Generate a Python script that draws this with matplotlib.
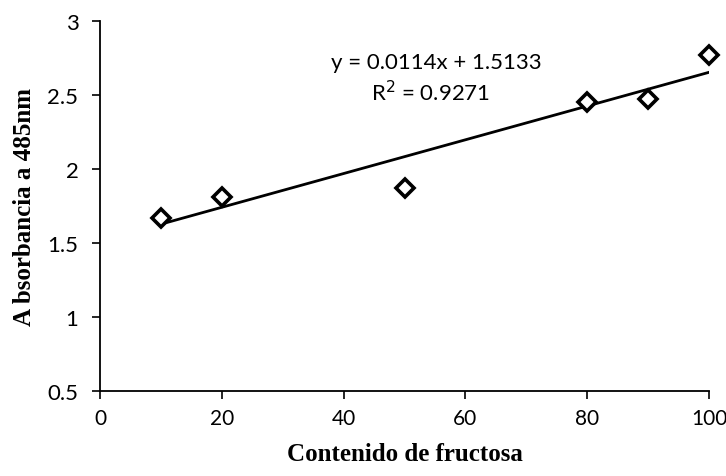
import numpy as np
import matplotlib
matplotlib.use("Agg")
import matplotlib.pyplot as plt

# Fructose content vs. absorbance at 485 nm
fructosa = [10, 20, 50, 80, 90, 100]
absorbancia = [1.67, 1.81, 1.87, 2.45, 2.47, 2.77]

# Linear trend line as reported
pendiente = 0.0114
intercepto = 1.5133
r2 = 0.9271

x_ticks = [0, 20, 40, 60, 80, 100]
y_ticks = [0.5, 1, 1.5, 2, 2.5, 3]

fig = plt.figure(figsize=(7.26, 4.77), dpi=100)
ax = fig.add_axes([100 / 726, 85 / 477, 609 / 726, 370 / 477])

xs = np.array([min(fructosa), max(fructosa)])
ax.plot(xs, pendiente * xs + intercepto, color="black", lw=2.0, zorder=2)
ax.plot(fructosa, absorbancia, linestyle="none", marker="D", markersize=9.5,
        markerfacecolor="white", markeredgecolor="black", markeredgewidth=2.6,
        zorder=3, clip_on=False)

ax.set_xlim(0, 100)
ax.set_ylim(0.5, 3)
ax.set_xticks(x_ticks)
ax.set_yticks(y_ticks)
ax.set_xticklabels([str(v) for v in x_ticks], fontfamily="Lato", fontsize=15)
ax.set_yticklabels([f"{v:g}" for v in y_ticks], fontfamily="Lato", fontsize=16)
ax.tick_params(axis="both", direction="out", length=5.5, width=1.2, color="black")
ax.tick_params(axis="y", pad=10)
ax.tick_params(axis="x", pad=7)

for side in ("top", "right"):
    ax.spines[side].set_visible(False)
for side in ("left", "bottom"):
    ax.spines[side].set_linewidth(1.3)
    ax.spines[side].set_color("black")

ax.set_xlabel("Contenido de fructosa", fontfamily="Liberation Serif",
              fontweight="bold", fontsize=18, labelpad=10)
ax.set_ylabel("A bsorbancia a 485nm", fontfamily="Liberation Serif",
              fontweight="bold", fontsize=18, labelpad=8)

ax.text(55.3, 2.725, f"y = {pendiente:.4f}x + {intercepto:.4f}",
        fontfamily="Lato", fontsize=16, ha="center", va="center")
ax.text(54.2, 2.52, f"R$^2$ = {r2:.4f}",
        fontfamily="Lato", fontsize=16, ha="center", va="center")

fig.savefig("out.png", dpi=100)
